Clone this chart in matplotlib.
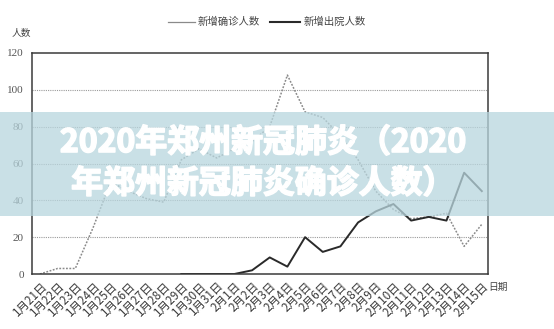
import numpy as np
import matplotlib
matplotlib.use("Agg")
import matplotlib.pyplot as plt
import matplotlib.patheffects as pe
from matplotlib.patches import Rectangle
from matplotlib.lines import Line2D

CJK = ['Noto Sans CJK SC', 'DejaVu Sans']
SERIF = ['Liberation Serif', 'DejaVu Serif']

# 日期 1月21日 - 2月15日
dates = ["1月%d日" % d for d in range(21, 32)] + ["2月%d日" % d for d in range(1, 16)]

# 新增确诊人数 (1/21 - 2/15)
confirmed = [0, 3, 3, 25, 50, 45, 41, 39, 62, 68, 63, 68, 72, 80, 108,
             88, 85, 75, 62, 45, 35, 30, 31, 33, 15, 27]

# 新增出院人数 (1/29 - 2/15)
discharged_start = 8
discharged = [0, 0, 0, 0, 2, 9, 4, 20, 12, 15, 28, 34, 38, 29, 31, 29, 55, 45]

y_ticks = [0, 20, 40, 60, 80, 100, 120]

title_lines = ["2020年郑州新冠肺炎（2020", "年郑州新冠肺炎确诊人数）"]

fig = plt.figure(figsize=(5.54, 3.29), dpi=100)
fig.patch.set_facecolor("white")
ax = fig.add_axes([32 / 554, 1 - 274 / 329, (488 - 32) / 554, (274 - 53) / 329])

x = np.arange(len(dates))
ax.plot(x, confirmed, color="#8a8a8a", lw=1.1, ls=(0, (1.2, 1.0)))
xd = np.arange(discharged_start, discharged_start + len(discharged))
ax.plot(xd, discharged, color="#2a2a2a", lw=1.4, solid_joinstyle="round")

ax.set_xlim(-0.45, 25.35)
ax.set_ylim(0, 120)
for g in y_ticks[1:-1]:
    ax.axhline(g, color="#9a9a9a", lw=0.8, ls=(0, (1, 1)), zorder=0)

for s in ax.spines.values():
    s.set_color("#3a3a3a")
    s.set_linewidth(1.1)

ax.set_yticks(y_ticks)
ax.set_yticklabels([str(v) for v in y_ticks], family=SERIF, fontsize=8, color="#555555")
ax.tick_params(axis="y", length=0, pad=6)
ax.set_xticks(x)
ax.set_xticklabels(dates, rotation=45, ha="right", va="top", rotation_mode="anchor",
                   family=CJK, fontsize=8.4, color="#3a3a3a")
ax.tick_params(axis="x", length=0, pad=4)

fig.text(12 / 554, 1 - 33 / 329, "人数", family=CJK, fontsize=7, color="#444444", va="center")
fig.text(488 / 554, 1 - 287 / 329, "日期", family=CJK, fontsize=7, color="#444444", va="center")

# legend at top
ly = 1 - 22 / 329
fig.add_artist(Line2D([168 / 554, 195 / 554], [ly, ly], color="#8a8a8a", lw=0.9))
fig.text(198 / 554, ly, "新增确诊人数", family=CJK, fontsize=7.5, color="#444444", va="center")
fig.add_artist(Line2D([270 / 554, 300 / 554], [ly, ly], color="#2a2a2a", lw=1.5))
fig.text(304 / 554, ly, "新增出院人数", family=CJK, fontsize=7.5, color="#444444", va="center")

# title band overlay
fig.add_artist(Rectangle((0, 1 - 216 / 329), 1, (216 - 112) / 329, transform=fig.transFigure,
                         facecolor=(0.72, 0.84, 0.87), alpha=0.75, edgecolor="none", zorder=5))
thick = [pe.withStroke(linewidth=1.2, foreground="white")]
for ty, line in zip([143, 184], title_lines):
    fig.text(0.475, 1 - ty / 329, line, family=CJK, fontsize=23, fontweight="heavy",
             color="white", ha="center", va="center", zorder=6, path_effects=thick)

fig.savefig("out.png", dpi=100)
